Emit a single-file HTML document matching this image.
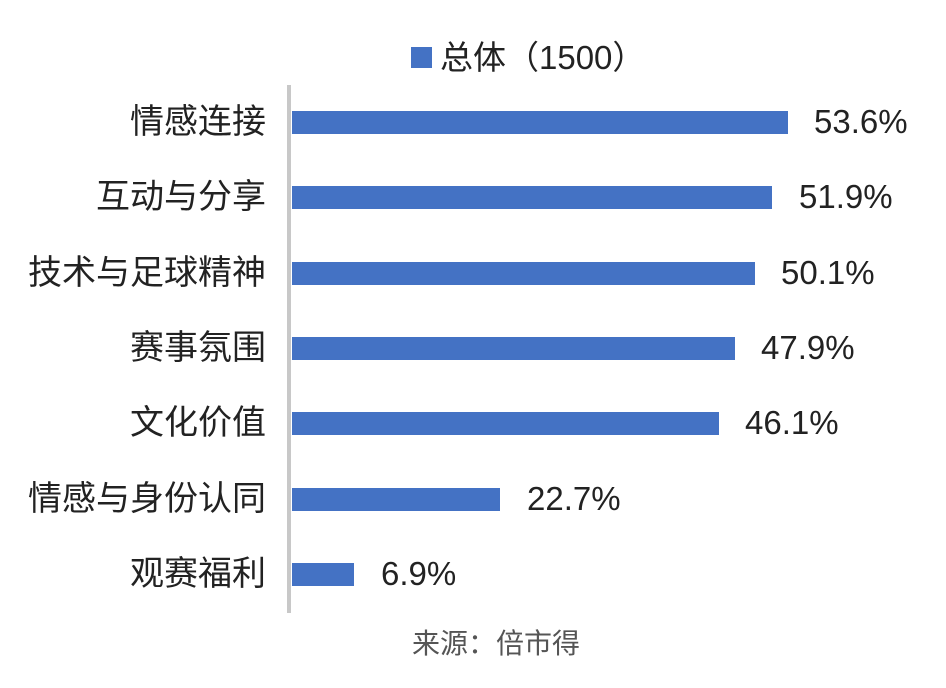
<!DOCTYPE html><html><head><meta charset="utf-8"><style>
body{margin:0;width:946px;height:688px;background:#fff;position:relative;overflow:hidden;font-family:"Liberation Sans","Noto Sans CJK SC",sans-serif;color:#222}
.b{position:absolute;left:292px;height:23px;background:#4472c4}
.l{position:absolute;right:680px;font-size:34px;line-height:34px;white-space:nowrap}
.v{position:absolute;font-size:33px;line-height:34px;white-space:nowrap}
</style></head><body>
<div style="position:absolute;left:411px;top:47px;width:21px;height:21px;background:#4472c4"></div>
<div style="position:absolute;left:440px;top:40px;font-size:33px;line-height:36px">总体（1500）</div>
<div style="position:absolute;left:287px;top:85px;width:4px;height:528px;background:#c8c8c8"></div>
<div class="b" style="top:111px;width:496px"></div><div class="l" style="top:105px">情感连接</div><div class="v" style="left:814px;top:105px">53.6%</div>
<div class="b" style="top:186px;width:480px"></div><div class="l" style="top:180px">互动与分享</div><div class="v" style="left:799px;top:180px">51.9%</div>
<div class="b" style="top:262px;width:463px"></div><div class="l" style="top:256px">技术与足球精神</div><div class="v" style="left:781px;top:256px">50.1%</div>
<div class="b" style="top:337px;width:443px"></div><div class="l" style="top:331px">赛事氛围</div><div class="v" style="left:761px;top:331px">47.9%</div>
<div class="b" style="top:412px;width:427px"></div><div class="l" style="top:406px">文化价值</div><div class="v" style="left:745px;top:406px">46.1%</div>
<div class="b" style="top:488px;width:208px"></div><div class="l" style="top:482px">情感与身份认同</div><div class="v" style="left:527px;top:482px">22.7%</div>
<div class="b" style="top:563px;width:62px"></div><div class="l" style="top:557px">观赛福利</div><div class="v" style="left:381px;top:557px">6.9%</div>
<div style="position:absolute;left:412px;top:628px;font-size:28px;line-height:32px;color:#555">来源：倍市得</div>
</body></html>
